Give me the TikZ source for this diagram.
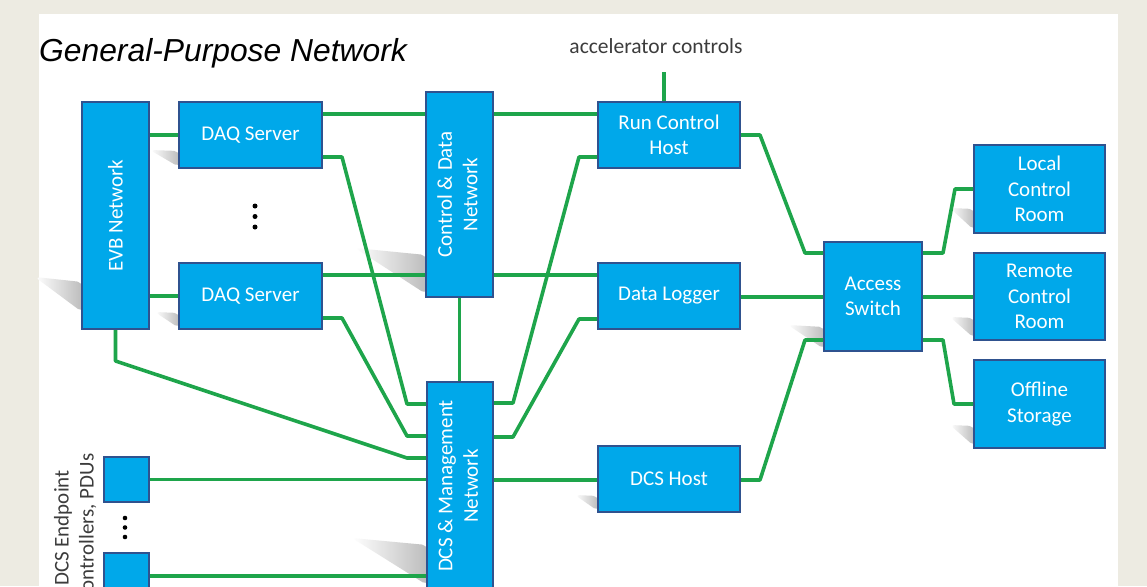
\documentclass[tikz,border=0pt]{standalone}
\usepackage{fontspec}
\setmainfont{Carlito}
\newfontfamily\titlefont{Liberation Sans}
\usetikzlibrary{calc}
\definecolor{bgbeige}{RGB}{237,235,226}
\definecolor{boxblue}{RGB}{0,168,234}
\definecolor{boxedge}{RGB}{47,82,143}
\definecolor{linkgreen}{RGB}{30,165,75}
\definecolor{acctext}{RGB}{60,60,60}
\tikzset{
  netbox/.style={draw=boxedge, line width=2pt, fill=boxblue, text=white, inner sep=0pt,
    align=center, font=\fontsize{21}{25.5}\selectfont},
  link/.style={draw=linkgreen, line width=3.6pt, line join=round},
  shadowshape/.style={left color=white, right color=black!26, draw=none, rounded corners=5pt},
  vdots/.style={fill=black, circle, inner sep=0pt, minimum size=5pt}
}
\begin{document}
\begin{tikzpicture}[x=1pt,y=-1pt]
\useasboundingbox (0,0) rectangle (1147,586);
\clip (0,0) rectangle (1147,586);
\fill[bgbeige] (0,0) rectangle (1147,586);
\fill[white] (39,14) rectangle (1118,590);

% shadows
\shade[shadowshape] (35,277) -- (82,282) -- (82,312) -- cycle;
\shade[shadowshape] (150,150) -- (179,151) -- (179,167) -- cycle;
\shade[shadowshape] (155,312) -- (179,313) -- (179,328) -- cycle;
\shade[shadowshape] (355,248) -- (426,255) -- (426,294) -- cycle;
\shade[shadowshape] (352,538) -- (427,545) -- (427,585) -- cycle;
\shade[shadowshape] (575,495) -- (598,496) -- (598,511) -- cycle;
\shade[shadowshape] (788,325) -- (824,327) -- (824,349) -- cycle;
\shade[shadowshape] (950,208) -- (974,209) -- (974,230) -- cycle;
\shade[shadowshape] (950,317) -- (974,318) -- (974,338) -- cycle;
\shade[shadowshape] (950,425) -- (974,426) -- (974,446) -- cycle;

% title and labels
\node[anchor=base west, inner sep=0pt, font=\titlefont\itshape\fontsize{31.8}{36}\selectfont] (title) at (39,62) {General-Purpose Network};
\node[anchor=base, inner sep=0pt, text=acctext, font=\fontsize{21.5}{25}\selectfont] (acc) at (656,54) {accelerator controls};
\coordinate (accl) at (664,72);
\node[inner sep=0pt, text=acctext, font=\fontsize{21}{25}\selectfont] (eplabel) at (76,528) {\rotatebox{90}{\begin{tabular}{@{}c@{}}DCS Endpoint\\Controllers, PDUs\end{tabular}}};

% links
\coordinate (k1) at (342,157);
\coordinate (k2) at (407,404);
\coordinate (k3) at (342,318);
\coordinate (k4) at (407,436);
\coordinate (k5) at (407,458);
\coordinate (k6) at (513,403);
\coordinate (k7) at (579,157);
\coordinate (k8) at (513,437);
\coordinate (k9) at (579,319);
\coordinate (k10) at (760,135);
\coordinate (k11) at (805,253);
\coordinate (k12) at (760,480);
\coordinate (k13) at (805,340);
\coordinate (k14) at (943,253);
\coordinate (k15) at (955,189);
\coordinate (k16) at (943,340);
\coordinate (k17) at (954,404);

\node[netbox, minimum width=67pt, minimum height=227pt] (evb) at (115.5,215.5) {\rotatebox{90}{EVB Network}};
\node[netbox, minimum width=143pt, minimum height=66pt] (daq1) at (250.5,135) {DAQ Server};
\node[netbox, minimum width=143pt, minimum height=66pt] (daq2) at (250.5,296) {DAQ Server};
\node[netbox, minimum width=67pt, minimum height=205pt] (cd) at (459.5,194.5) {\rotatebox{90}{\begin{tabular}{@{}c@{}}Control \& Data\\Network\end{tabular}}};
\node[netbox, minimum width=66pt, minimum height=208pt] (dcsm) at (460,486) {\rotatebox{90}{\begin{tabular}{@{}c@{}}DCS \& Management\\Network\end{tabular}}};
\node[netbox, minimum width=142pt, minimum height=66pt] (rch) at (669,135) {Run Control\\Host};
\node[netbox, minimum width=142pt, minimum height=66pt] (dl) at (669,296) {Data Logger};
\node[netbox, minimum width=142pt, minimum height=66pt] (dcsh) at (669,479) {DCS Host};
\node[netbox, minimum width=98pt, minimum height=109pt] (as) at (873,296.5) {Access\\Switch};
\node[netbox, minimum width=131pt, minimum height=88pt] (lcr) at (1039.5,189) {Local\\Control\\Room};
\node[netbox, minimum width=131pt, minimum height=87pt] (rcr) at (1039.5,296.5) {Remote\\Control\\Room};
\node[netbox, minimum width=131pt, minimum height=88pt] (os) at (1039.5,404) {Offline\\Storage};
\node[netbox, minimum width=45pt, minimum height=45pt] (ep1) at (126.5,479.5) {};
\node[netbox, minimum width=45pt, minimum height=45pt] (ep2) at (126.5,575.5) {};

\draw[link] (evb.east |- 0,135) -- (daq1.west);
\draw[link] (evb.east |- 0,296) -- (daq2.west);
\draw[link] (daq1.east |- 0,114) -- (cd.west |- 0,114);
\draw[link] (daq1.east |- k1) -- (k1) -- (k2) -- (dcsm.west |- k2);
\draw[link] (daq2.east |- 0,275) -- (cd.west |- 0,275);
\draw[link] (daq2.east |- k3) -- (k3) -- (k4) -- (dcsm.west |- k4);
\draw[link] (evb.south) -- (evb.south |- 0,361) -- (k5) -- (dcsm.west |- k5);
\draw[link] (ep1.east) -- (dcsm.west |- ep1.east);
\draw[link] (ep2.east |- 0,576) -- (dcsm.west |- 0,576);
\draw[link] (cd.east |- 0,114) -- (rch.west |- 0,114);
\draw[link] (cd.east |- 0,275) -- (dl.west |- 0,275);
\draw[link] (cd.south) -- (cd.south |- dcsm.north);
\draw[link] (dcsm.east |- k6) -- (k6) -- (k7) -- (rch.west |- k7);
\draw[link] (dcsm.east |- k8) -- (k8) -- (k9) -- (dl.west |- k9);
\draw[link] (dcsm.east |- 0,480) -- (dcsh.west |- 0,480);
\draw[link] (rch.east) -- (k10) -- (k11) -- (as.west |- k11);
\draw[link] (dl.east |- 0,297) -- (as.west |- 0,297);
\draw[link] (dcsh.east |- k12) -- (k12) -- (k13) -- (as.west |- k13);
\draw[link] (as.east |- k14) -- (k14) -- (k15) -- (lcr.west);
\draw[link] (as.east |- 0,297) -- (rcr.west |- 0,297);
\draw[link] (as.east |- k16) -- (k16) -- (k17) -- (os.west);
\draw[link] (accl) -- (rch.north -| accl);

% dots
\node[vdots] (d1) at (255,206) {};
\node[vdots] (d2) at (255,216.5) {};
\node[vdots] (d3) at (255,227) {};
\node[vdots, minimum size=4.6pt] (e1) at (125,518) {};
\node[vdots, minimum size=4.6pt] (e2) at (125,527.5) {};
\node[vdots, minimum size=4.6pt] (e3) at (125,537) {};
\end{tikzpicture}
\end{document}
